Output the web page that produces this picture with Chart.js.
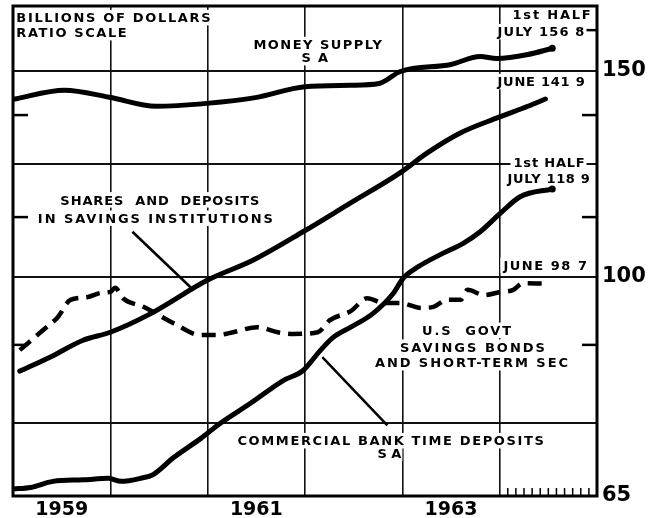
<!DOCTYPE html>
<html>
<head>
<meta charset="utf-8">
<script src="https://cdn.jsdelivr.net/npm/chart.js@4.4.1/dist/chart.umd.min.js"></script>
<style>
  html, body { margin: 0; padding: 0; background: #fff; }
  #wrap { width: 648px; height: 518px; }
</style>
</head>
<body>
<div id="wrap"><canvas id="myChart" width="648" height="518"></canvas></div>
<script>
// dates are fractional years, values are billions of dollars (ratio scale)
var moneyYears  = [1959.0, 1959.53, 1959.99, 1960.47, 1960.99, 1961.49, 1962.0, 1962.47, 1962.76, 1962.98, 1963.5, 1963.8, 1963.97, 1964.29, 1964.54];
var moneyValues = [141.8, 144.4, 142.4, 139.9, 140.7, 142.3, 145.4, 145.8, 146.3, 149.8, 151.9, 154.3, 153.7, 154.9, 156.8];

var savingsYears  = [1959.07, 1959.38, 1959.72, 1960.0, 1960.41, 1961.0, 1961.47, 1961.98, 1962.44, 1962.98, 1963.26, 1963.6, 1963.98, 1964.29, 1964.47];
var savingsValues = [83.1, 85.4, 88.3, 89.7, 93.0, 99.4, 103.4, 109.3, 115.3, 122.8, 127.7, 132.8, 136.8, 139.9, 141.9];

var timeDepYears  = [1959.0, 1959.18, 1959.41, 1959.72, 1959.98, 1960.11, 1960.31, 1960.44, 1960.65, 1960.93, 1961.13, 1961.44, 1961.78, 1961.98, 1962.16, 1962.29, 1962.47, 1962.7, 1962.91, 1963.01, 1963.16, 1963.42, 1963.63, 1963.8, 1964.0, 1964.21, 1964.54];
var timeDepValues = [65.9, 66.1, 66.9, 67.1, 67.3, 66.9, 67.3, 67.8, 70.1, 72.8, 75.0, 78.0, 81.6, 83.2, 86.6, 88.8, 90.6, 93.1, 96.9, 99.8, 102.0, 104.8, 106.9, 109.3, 113.2, 117.1, 118.9];

var bondYears  = [1959.07, 1959.31, 1959.46, 1959.59, 1959.76, 1959.9, 1960.0, 1960.05, 1960.13, 1960.34, 1960.65, 1960.93, 1961.1, 1961.26, 1961.51, 1961.72, 1961.88, 1962.13, 1962.26, 1962.47, 1962.64, 1962.81, 1962.98, 1963.19, 1963.32, 1963.46, 1963.6, 1963.67, 1963.84, 1964.01, 1964.14, 1964.24, 1964.45];
var bondValues = [86.6, 90.1, 92.4, 95.6, 96.1, 96.9, 97.1, 97.9, 95.9, 94.3, 91.3, 89.2, 89.2, 89.7, 90.6, 89.7, 89.4, 89.7, 91.9, 93.5, 95.9, 95.0, 95.0, 94.1, 94.3, 95.6, 95.6, 97.5, 96.5, 97.1, 97.5, 98.8, 98.7];

var yearLabels = [1959, 1961, 1963];
var yTicks = [65, 75, 87.5, 100, 112.5, 125, 137.5, 150];
var yLabelled = [65, 100, 150];
var yGrid = [75, 100, 125, 150];
var leftMinor = [87.5, 112.5, 137.5];
var rightMinor = [87.5, 112.5, 137.5, 162.5];

// text notes, anchored in chart units (t = year, v = value)
var notes = [
  {text: "BILLIONS OF DOLLARS", t: 1959.034, v: 165.0, w: 196, align: "left"},
  {text: "RATIO SCALE", t: 1959.034, v: 160.2, w: 112, align: "left"},
  {text: "MONEY SUPPLY", t: 1962.138, v: 156.5, w: 130, align: "center"},
  {text: "S A", t: 1962.107, v: 152.5, w: 28, align: "center"},
  {text: "1st HALF", t: 1964.954, v: 166.0, w: 80, align: "right"},
  {text: "JULY 156 8", t: 1964.882, v: 160.5, w: 88, align: "right"},
  {text: "JUNE 141 9", t: 1964.882, v: 145.5, w: 88, align: "right"},
  {text: "1st HALF", t: 1964.882, v: 124.2, w: 72, align: "right"},
  {text: "JULY 118 9", t: 1964.933, v: 120.4, w: 83, align: "right"},
  {text: "JUNE 98 7", t: 1964.912, v: 101.4, w: 85, align: "right"},
  {text: "U.S  GOVT", t: 1963.669, v: 89.2, w: 91, align: "center"},
  {text: "SAVINGS BONDS", t: 1963.731, v: 86.3, w: 147, align: "center"},
  {text: "AND SHORT-TERM SEC", t: 1963.72, v: 83.7, w: 195, align: "center"},
  {text: "SHARES  AND  DEPOSITS", t: 1960.514, v: 115.3, w: 200, align: "center"},
  {text: "IN SAVINGS INSTITUTIONS", t: 1960.473, v: 111.2, w: 237, align: "center"},
  {text: "COMMERCIAL BANK TIME DEPOSITS", t: 1962.888, v: 71.8, w: 308, align: "center"},
  {text: "S A", t: 1962.867, v: 70.0, w: 24, align: "center"}
];

var leaders = [
  {from: [1960.227, 109.3], to: [1960.824, 98.0]},
  {from: [1962.846, 74.7], to: [1962.178, 85.4]}
];

function pairs(xs, ys) {
  return xs.map(function (x, i) { return {x: x, y: ys[i]}; });
}

function endDot(n) {
  return function (c) { return c.dataIndex === n - 1 ? 3.5 : 0; };
}

function drawNote(ctx, n, xs, ys) {
  var size = 13;
  var x = xs.getPixelForValue(n.t), y = ys.getPixelForValue(n.v);
  ctx.font = "bold " + size + "px 'DejaVu Sans'";
  ctx.letterSpacing = "0px";
  var w0 = ctx.measureText(n.text).width;
  var sp = (n.w - w0) / n.text.length;
  ctx.letterSpacing = sp.toFixed(2) + "px";
  var left = n.align === "left" ? x : (n.align === "right" ? x - n.w : x - n.w / 2);
  var cap = size * 0.73;
  ctx.fillStyle = "#fff";
  ctx.fillRect(left - 3, y - cap - 3, n.w + 4, cap + 6);
  ctx.fillStyle = "#000";
  ctx.textAlign = "left";
  ctx.textBaseline = "alphabetic";
  ctx.fillText(n.text, left, y);
  ctx.letterSpacing = "0px";
}

var decorations = {
  id: "decorations",
  beforeDatasetsDraw: function (chart) {
    var ctx = chart.ctx, xs = chart.scales.x, ys = chart.scales.y, a = chart.chartArea;
    ctx.save();
    ctx.strokeStyle = "#000";
    ctx.lineWidth = 2.5;
    leftMinor.forEach(function (v) {
      var y = ys.getPixelForValue(v);
      ctx.beginPath(); ctx.moveTo(a.left, y); ctx.lineTo(a.left + 15, y); ctx.stroke();
    });
    rightMinor.forEach(function (v) {
      var y = ys.getPixelForValue(v);
      ctx.beginPath(); ctx.moveTo(a.right, y); ctx.lineTo(a.right - 15, y); ctx.stroke();
    });
    // monthly ticks for 1964
    ctx.lineWidth = 1.5;
    for (var m = 1; m < 12; m++) {
      var x = xs.getPixelForValue(1964 + m / 12);
      ctx.beginPath(); ctx.moveTo(x, a.bottom); ctx.lineTo(x, a.bottom - 8); ctx.stroke();
    }
    notes.forEach(function (n) { drawNote(ctx, n, xs, ys); });
    ctx.lineWidth = 2.5;
    leaders.forEach(function (l) {
      ctx.beginPath();
      ctx.moveTo(xs.getPixelForValue(l.from[0]), ys.getPixelForValue(l.from[1]));
      ctx.lineTo(xs.getPixelForValue(l.to[0]), ys.getPixelForValue(l.to[1]));
      ctx.stroke();
    });
    ctx.restore();
  },
  afterDatasetsDraw: function (chart) {
    var ctx = chart.ctx, a = chart.chartArea;
    ctx.save();
    ctx.strokeStyle = "#000";
    ctx.lineWidth = 3;
    ctx.strokeRect(a.left, a.top, a.right - a.left, a.bottom - a.top);
    ctx.restore();
  }
};

var solid = {
  borderColor: "#000", backgroundColor: "#000", borderWidth: 5, fill: false,
  cubicInterpolationMode: "monotone", borderCapStyle: "round", borderJoinStyle: "round",
  pointBorderWidth: 0, pointBackgroundColor: "#000"
};

var datasets = [
  Object.assign({}, solid, {label: "Money supply", data: pairs(moneyYears, moneyValues), pointRadius: endDot(moneyValues.length)}),
  Object.assign({}, solid, {label: "Shares and deposits in savings institutions", data: pairs(savingsYears, savingsValues), pointRadius: 0}),
  Object.assign({}, solid, {label: "Commercial bank time deposits", data: pairs(timeDepYears, timeDepValues), pointRadius: endDot(timeDepValues.length)}),
  Object.assign({}, solid, {label: "U.S. Govt savings bonds and short-term sec", data: pairs(bondYears, bondValues), pointRadius: 0,
    borderWidth: 4.5, borderDash: [14, 8], borderCapStyle: "butt"})
];

var clear = "rgba(0,0,0,0)";

var options = {
  responsive: false,
  animation: false,
  events: [],
  layout: {padding: {left: 13, top: 6, right: 0, bottom: 0}},
  plugins: {legend: {display: false}, tooltip: {enabled: false}, title: {display: false}},
  scales: {
    x: {
      type: "linear", min: 1959, max: 1965, position: "bottom",
      afterBuildTicks: function (s) {
        s.ticks = [1959, 1960, 1961, 1962, 1963, 1964, 1965].map(function (v) { return {value: v}; });
      },
      grid: {
        color: function (c) { return c.tick && c.tick.value > 1959 && c.tick.value < 1965 ? "#111" : clear; },
        lineWidth: 1.6, drawTicks: false
      },
      border: {display: false},
      ticks: {display: false},
      afterFit: function (s) { s.height = 0; s.paddingLeft = 0; s.paddingRight = 0; }
    },
    x2: {
      type: "linear", min: 1959, max: 1965, position: "bottom",
      afterBuildTicks: function (s) {
        s.ticks = yearLabels.map(function (y) { return {value: y + 0.5}; });
      },
      ticks: {
        callback: function (v) { return String(Math.floor(v)); },
        font: {family: "'DejaVu Sans'", weight: "bold", size: 19},
        color: "#000", padding: 3, maxRotation: 0, autoSkip: false
      },
      grid: {display: false, drawTicks: false},
      border: {display: false},
      afterFit: function (s) { s.height = 22; s.paddingLeft = 0; s.paddingRight = 0; }
    },
    y: {
      type: "logarithmic", position: "right", min: 65, max: 170.4,
      afterBuildTicks: function (s) {
        s.ticks = yTicks.map(function (v) { return {value: v}; });
      },
      ticks: {
        callback: function (v) { return yLabelled.indexOf(v) >= 0 ? String(v) : ""; },
        font: {family: "'DejaVu Sans'", weight: "bold", size: 21},
        color: "#000", padding: 5, autoSkip: false
      },
      grid: {
        color: function (c) { return c.tick && yGrid.indexOf(c.tick.value) >= 0 ? "#111" : clear; },
        lineWidth: 2, drawTicks: false
      },
      border: {display: false},
      afterFit: function (s) { s.width = 51; s.paddingTop = 0; s.paddingBottom = 0; }
    }
  }
};

var chart = new Chart(document.getElementById("myChart"), {
  type: "line",
  data: {datasets: datasets},
  options: options,
  plugins: [decorations]
});
</script>
</body>
</html>
